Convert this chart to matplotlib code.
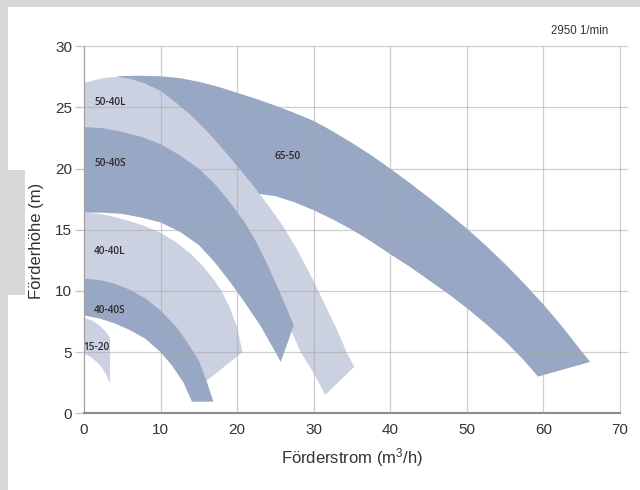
import matplotlib.pyplot as plt
from matplotlib.patches import Rectangle

plt.rcParams['font.family'] = ['Liberation Sans', 'DejaVu Sans']
plt.rcParams['mathtext.fontset'] = 'custom'
plt.rcParams['mathtext.rm'] = 'Liberation Sans'

# Kennlinienfelder (Q in m3/h, H in m), obere Kurve links->rechts, untere rechts->links
q_6550_oben = [4.4, 7, 10, 12.5, 15, 17.5, 20, 22.5, 25, 27.5, 30, 32.5, 35, 37.5, 40, 42.5, 45,
               47.5, 50, 52.5, 55, 57.5, 60, 62.5, 65, 66.1]
h_6550_oben = [27.55, 27.6, 27.55, 27.4, 27.1, 26.7, 26.2, 25.7, 25.15, 24.55, 23.9, 23.05, 22.1,
               21.1, 20.0, 18.85, 17.65, 16.4, 15.1, 13.7, 12.2, 10.6, 8.9, 7.05, 5.05, 4.2]
q_6550_unten = [59.3, 57.5, 55, 52.5, 50, 47.5, 45, 42.5, 40, 37.5, 35, 32.5, 30, 27.5, 25, 23.2,
                20, 15, 4.4]
h_6550_unten = [3.0, 4.3, 5.9, 7.3, 8.6, 9.8, 10.9, 12.0, 13.0, 14.05, 15.0, 15.85, 16.6, 17.25,
                17.75, 17.9, 18.2, 18.6, 27.55]

q_5040L_oben = [0, 1.5, 3, 4.4, 6, 8, 10, 12, 14, 16, 18, 20, 22, 24, 26, 28, 30, 30.6, 32, 33.2,
                34.3, 35.3]
h_5040L_oben = [27.0, 27.25, 27.45, 27.5, 27.35, 26.95, 26.35, 25.4, 24.35, 23.1, 21.7, 20.2, 18.7,
                17.05, 15.3, 13.2, 10.8, 10.0, 8.2, 6.6, 5.0, 3.8]
q_5040L_unten = [31.5, 30.5, 29.5, 28.3, 27.6, 26, 24, 22, 20, 17, 14, 10, 5, 0]
h_5040L_unten = [1.5, 2.7, 3.8, 5.0, 6.0, 8.3, 10.4, 13.3, 15.6, 18.0, 19.9, 21.6, 22.7, 23.1]

q_5040S_oben = [0, 2.5, 5, 7.5, 10, 12.5, 15, 17, 19, 21, 22.5, 24, 25.5, 27.4]
h_5040S_oben = [23.4, 23.3, 23.0, 22.6, 22.0, 21.1, 20.0, 18.8, 17.3, 15.6, 14.0, 12.1, 10.0, 7.2]
q_5040S_unten = [25.7, 24.5, 23, 21, 19, 17, 15, 12.5, 10, 7.5, 5, 2.5, 0]
h_5040S_unten = [4.2, 5.55, 7.2, 9.05, 10.8, 12.4, 13.75, 14.85, 15.6, 16.0, 16.3, 16.4, 16.4]

q_4040L_oben = [0, 2, 4, 6, 8, 10, 12, 14, 15.5, 17, 18, 19, 20, 20.7]
h_4040L_oben = [16.4, 16.3, 16.05, 15.7, 15.3, 14.75, 14.0, 13.0, 12.05, 10.9, 9.95, 8.7, 7.0, 5.0]
q_4040L_unten = [15.9, 15, 13.5, 12, 10, 8, 6, 4, 2, 0]
h_4040L_unten = [2.6, 4.0, 5.5, 6.8, 8.1, 9.1, 9.8, 10.3, 10.6, 10.7]

q_4040S_oben = [0, 2, 4, 6, 8, 10, 12, 13.5, 15, 16, 16.9]
h_4040S_oben = [11.0, 10.9, 10.6, 10.1, 9.4, 8.4, 7.1, 5.8, 4.3, 2.65, 0.95]
q_4040S_unten = [14.1, 13, 11.5, 10, 8, 6, 4, 2, 0]
h_4040S_unten = [0.95, 2.5, 3.9, 5.0, 6.1, 6.8, 7.35, 7.75, 8.0]

q_1520_oben = [0, 1, 2, 2.8, 3.4]
h_1520_oben = [7.8, 7.6, 7.2, 6.7, 6.2]
q_1520_unten = [3.4, 2.8, 2, 1, 0]
h_1520_unten = [2.45, 3.3, 4.0, 4.55, 4.9]

namen = ['65-50', '50-40L', '50-40S', '40-40L', '40-40S', '15-20']
name_q = [24.9, 1.3, 1.3, 1.3, 1.3, -0.1]
name_h = [21.0, 25.4, 20.4, 13.2, 8.4, 5.4]

x_ticks = [0, 10, 20, 30, 40, 50, 60, 70]
y_ticks = [0, 5, 10, 15, 20, 25, 30]

dunkel = '#98a8c4'
hell = '#ccd1e2'

fig = plt.figure(figsize=(6.4, 4.9), dpi=100, facecolor='#d8d8d8')
# weisse Flaeche hinter dem Diagramm
fig.patches.append(Rectangle((8 / 640, 0), 1, 1 - 7 / 490, transform=fig.transFigure,
                             facecolor='white', edgecolor='none', zorder=-10))
fig.patches.append(Rectangle((8 / 640, 1 - 295 / 490), 17 / 640, 125 / 490, transform=fig.transFigure,
                             facecolor='#d8d8d8', edgecolor='none', zorder=-9))

ax = fig.add_axes([84 / 640, 1 - 413.3 / 490, 536 / 640, 367 / 490])
ax.set_facecolor('none')

felder = [
    (q_6550_oben, h_6550_oben, q_6550_unten, h_6550_unten, dunkel),
    (q_5040L_oben, h_5040L_oben, q_5040L_unten, h_5040L_unten, hell),
    (q_5040S_oben, h_5040S_oben, q_5040S_unten, h_5040S_unten, dunkel),
    (q_4040L_oben, h_4040L_oben, q_4040L_unten, h_4040L_unten, hell),
    (q_4040S_oben, h_4040S_oben, q_4040S_unten, h_4040S_unten, dunkel),
    (q_1520_oben, h_1520_oben, q_1520_unten, h_1520_unten, hell),
]
for qo, ho, qu, hu, farbe in felder:
    ax.fill(qo + qu, ho + hu, color=farbe, lw=0, zorder=2)

for n, q, h in zip(namen, name_q, name_h):
    ax.text(q, h, n, fontsize=7.2, family=['Open Sans', 'DejaVu Sans'], weight='semibold',
            color='#2b2b2b', ha='left', va='center', zorder=5)

# Gitter
ax.hlines(y_ticks[1:], 0, 71, colors='#a8a8a8', lw=0.9, alpha=0.55, zorder=3, clip_on=False)
ax.vlines(x_ticks[1:], 0, 30, colors='#a8a8a8', lw=0.9, alpha=0.55, zorder=3, clip_on=False)

ax.set_xlim(0, 70)
ax.set_ylim(0, 30)
ax.set_xticks(x_ticks)
ax.set_yticks(y_ticks)
ax.tick_params(axis='y', length=6.5, width=0.9, color='#c4c4c4', pad=2, labelsize=11, labelcolor='#333333')
ax.tick_params(axis='x', length=0, pad=7, labelsize=11, labelcolor='#333333')

for s in ['top', 'right']:
    ax.spines[s].set_visible(False)
ax.spines['left'].set_color('#a0a0a0')
ax.spines['left'].set_linewidth(0.9)
ax.spines['bottom'].set_color('#8c8c8c')
ax.spines['bottom'].set_linewidth(1.5)

ax.set_xlabel(r'Förderstrom ($\mathregular{m^3}$/h)', fontsize=12, color='#333333')
ax.set_ylabel('Förderhöhe (m)', fontsize=12, color='#333333')
ax.xaxis.set_label_coords(0.5, -0.09)
ax.yaxis.set_label_coords(-0.075, 0.47)

fig.text(608 / 640, 1 - 31 / 490, '2950 1/min', fontsize=8.3, color='#333333', ha='right', va='center')

fig.savefig('out.png', dpi=100, facecolor=fig.get_facecolor())
